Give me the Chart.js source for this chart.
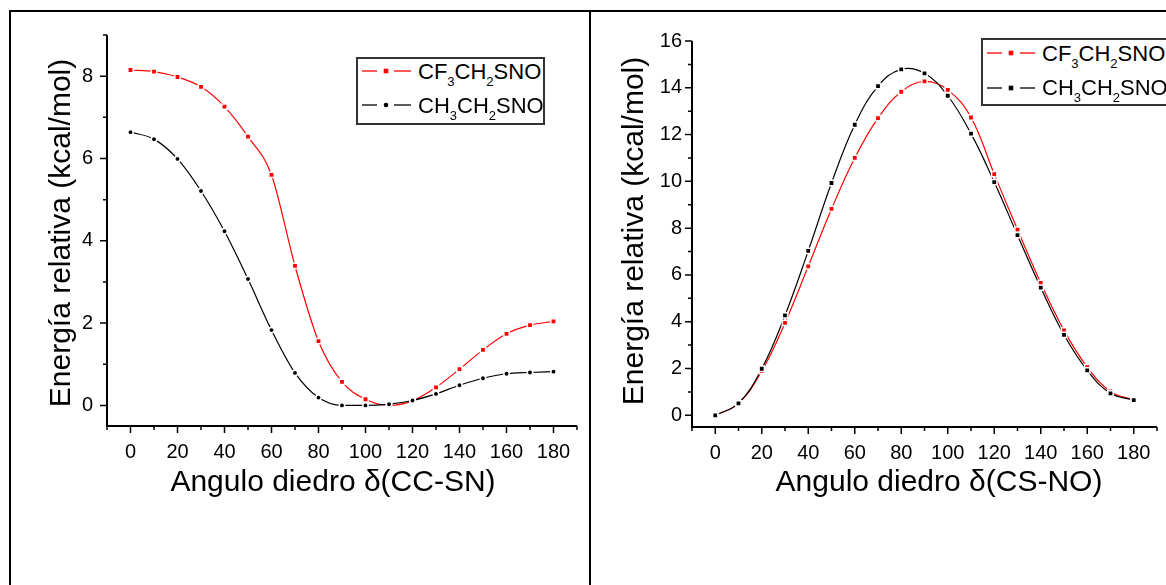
<!DOCTYPE html>
<html>
<head>
<meta charset="utf-8">
<script src="https://cdn.jsdelivr.net/npm/chart.js@4.4.1/dist/chart.umd.min.js"></script>
<style>
  html, body { margin: 0; padding: 0; background: #fff; overflow: hidden; width: 1166px; height: 585px; }
  body { position: relative; font-family: Arial, "Liberation Sans", sans-serif; color: #000; }
  canvas { position: absolute; top: 0; }
  .frame { position: absolute; background: #000; }
  .title { position: absolute; font-size: 30px; line-height: 30px; height: 30px; white-space: nowrap; text-align: center; }
  .ytitle { transform: rotate(-90deg); }
  .legbox { position: absolute; border: 2px solid #333; background: #fff; box-sizing: border-box; }
  .legtxt { position: absolute; font-size: 22px; line-height: 22px; white-space: nowrap; }
  .legtxt span { font-size: 13px; vertical-align: -7px; }
  .sample { position: absolute; overflow: visible; }
</style>
</head>
<body>
<canvas id="ccsn" width="591" height="585" style="left:0"></canvas>
<canvas id="csno" width="580" height="585" style="left:591px"></canvas>

<!-- panel frames -->
<div class="frame" style="left:10px;top:10px;width:1160px;height:2px"></div>
<div class="frame" style="left:9px;top:10px;width:2px;height:580px"></div>
<div class="frame" style="left:589px;top:10px;width:2px;height:580px"></div>

<!-- axis titles -->
<div class="title ytitle" style="left:-140px;top:218px;width:400px">Energía relativa (kcal/mol)</div>
<div class="title" style="left:83px;top:466px;width:500px">Angulo diedro δ(CC-SN)</div>
<div class="title ytitle" style="left:433px;top:216px;width:400px">Energía relativa (kcal/mol)</div>
<div class="title" style="left:689px;top:466px;width:500px">Angulo diedro δ(CS-NO)</div>

<!-- legend, left panel -->
<div class="legbox" style="left:356px;top:57px;width:189px;height:68px"></div>
<svg class="sample" style="left:362px;top:66px" width="50" height="10">
  <line x1="0" y1="5" x2="15" y2="5" stroke="#f00" stroke-width="1.3"/>
  <rect x="21.7" y="2.7" width="4.6" height="4.6" fill="#f00"/>
  <line x1="32" y1="5" x2="49" y2="5" stroke="#f00" stroke-width="1.3"/>
</svg>
<div class="legtxt" style="left:418px;top:60.6px">CF<span>3</span>CH<span>2</span>SNO</div>
<svg class="sample" style="left:362px;top:100px" width="50" height="10">
  <line x1="0" y1="5" x2="15" y2="5" stroke="#000" stroke-width="1.3"/>
  <circle cx="24" cy="5" r="2.3" fill="#000"/>
  <line x1="32" y1="5" x2="49" y2="5" stroke="#000" stroke-width="1.3"/>
</svg>
<div class="legtxt" style="left:418px;top:94.6px">CH<span>3</span>CH<span>2</span>SNO</div>

<!-- legend, right panel -->
<div class="legbox" style="left:981px;top:38px;width:240px;height:68px"></div>
<svg class="sample" style="left:987px;top:48.3px" width="50" height="10">
  <line x1="0" y1="5" x2="15" y2="5" stroke="#f00" stroke-width="1.3"/>
  <rect x="21.7" y="2.7" width="4.6" height="4.6" fill="#f00"/>
  <line x1="33" y1="5" x2="48" y2="5" stroke="#f00" stroke-width="1.3"/>
</svg>
<div class="legtxt" style="left:1042px;top:43.1px">CF<span>3</span>CH<span>2</span>SNO</div>
<svg class="sample" style="left:987px;top:83.3px" width="50" height="10">
  <line x1="0" y1="5" x2="15" y2="5" stroke="#000" stroke-width="1.3"/>
  <rect x="21.7" y="2.7" width="4.6" height="4.6" fill="#000"/>
  <line x1="33" y1="5" x2="48" y2="5" stroke="#000" stroke-width="1.3"/>
</svg>
<div class="legtxt" style="left:1042px;top:77.3px">CH<span>3</span>CH<span>2</span>SNO</div>

<script>
// Dihedral angles (degrees)
const angles = [0, 10, 20, 30, 40, 50, 60, 70, 80, 90, 100, 110, 120, 130, 140, 150, 160, 170, 180];

// Relative energy (kcal/mol) vs. δ(CC-SN)
const cf3Ccsn = [8.15, 8.11, 7.98, 7.74, 7.26, 6.53, 5.60, 3.39, 1.56, 0.57, 0.15, 0.00, 0.11, 0.44, 0.88, 1.35, 1.74, 1.95, 2.04];
const ch3Ccsn = [6.64, 6.47, 5.99, 5.21, 4.23, 3.07, 1.83, 0.79, 0.19, 0.00, 0.00, 0.03, 0.12, 0.28, 0.49, 0.66, 0.77, 0.80, 0.82];

// Relative energy (kcal/mol) vs. δ(CS-NO)
const cf3Csno = [0.00, 0.51, 1.89, 3.95, 6.37, 8.82, 11.00, 12.70, 13.83, 14.27, 13.91, 12.73, 10.31, 7.94, 5.66, 3.63, 2.06, 1.02, 0.65];
const ch3Csno = [0.00, 0.51, 1.99, 4.27, 7.03, 9.93, 12.42, 14.07, 14.79, 14.62, 13.66, 12.04, 9.97, 7.70, 5.46, 3.44, 1.92, 0.94, 0.65];

// Tick labels
const xTickLabels = ['0', '20', '40', '60', '80', '100', '120', '140', '160', '180'];
const yTickLabelsCcsn = ['0', '2', '4', '6', '8'];
const yTickLabelsCsno = ['0', '2', '4', '6', '8', '10', '12', '14', '16'];

const FONT = 'Arial, "Liberation Sans", sans-serif';

const toPoints = ys => angles.map((a, i) => ({ x: a, y: ys[i] }));

// One tick per whole unit between the axis limits (minor ticks carry no label)
const unitTicks = scale => {
  const ticks = [];
  for (let v = Math.ceil(scale.min); v <= scale.max; v++) ticks.push({ value: v });
  scale.ticks = ticks;
};

// Axis lines with major/minor tick marks drawn at the scale's tick positions
const axisFrame = {
  id: 'axisFrame',
  afterDraw(chart) {
    const { ctx, chartArea: a, scales: { x, y } } = chart;
    const xLabels = chart.options.scales.x.ticks.labelSet;
    const yLabels = chart.options.scales.y.ticks.labelSet;
    ctx.save();
    ctx.strokeStyle = '#000';
    ctx.lineWidth = 2;
    ctx.beginPath();
    ctx.moveTo(a.left, a.top);
    ctx.lineTo(a.left, a.bottom);
    ctx.lineTo(a.right, a.bottom);
    ctx.stroke();
    ctx.lineWidth = 1.5;
    ctx.beginPath();
    x.ticks.forEach(t => {
      const px = x.getPixelForValue(t.value);
      const len = xLabels.includes(String(t.value)) ? 7 : 4;
      ctx.moveTo(px, a.bottom);
      ctx.lineTo(px, a.bottom + len);
    });
    y.ticks.forEach(t => {
      const py = y.getPixelForValue(t.value);
      const len = yLabels.includes(String(t.value)) ? 7 : 4;
      ctx.moveTo(a.left - len, py);
      ctx.lineTo(a.left, py);
    });
    ctx.stroke();
    ctx.restore();
  }
};

function makeChart(id, cfg) {
  const lineOpts = cfg.monotone ? { cubicInterpolationMode: 'monotone' } : { tension: 0.4 };
  return new Chart(document.getElementById(id), {
    type: 'scatter',
    data: {
      datasets: [
        {
          label: 'CH3CH2SNO', data: toPoints(cfg.ch3), showLine: false, order: 0,
          pointStyle: cfg.ch3Style, pointRadius: cfg.ch3Style === 'circle' ? 2.7 : 3.75,
          pointBackgroundColor: '#000', pointBorderColor: '#fff', pointBorderWidth: 1.5
        },
        {
          label: 'CF3CH2SNO', data: toPoints(cfg.cf3), showLine: false, order: 1,
          pointStyle: 'rect', pointRadius: 3.75,
          pointBackgroundColor: '#f00', pointBorderColor: '#fff', pointBorderWidth: 1.5
        },
        Object.assign({
          label: 'CH3CH2SNO curve', data: toPoints(cfg.ch3), showLine: true, order: 2,
          pointRadius: 0, borderColor: '#000', borderWidth: 1.2
        }, lineOpts),
        Object.assign({
          label: 'CF3CH2SNO curve', data: toPoints(cfg.cf3), showLine: true, order: 3,
          pointRadius: 0, borderColor: '#f00', borderWidth: 1.2
        }, lineOpts)
      ]
    },
    options: {
      responsive: false,
      animation: false,
      devicePixelRatio: 1,
      events: [],
      layout: { padding: { left: 0, top: cfg.top, right: 0, bottom: 0 } },
      plugins: { legend: { display: false }, tooltip: { enabled: false } },
      scales: {
        x: {
          type: 'linear', min: -10, max: 190,
          afterFit: s => { s.height = cfg.xHeight; },
          grid: { display: false, drawTicks: false },
          border: { display: false },
          ticks: {
            labelSet: xTickLabels,
            stepSize: 10, autoSkip: false, maxRotation: 0, maxTicksLimit: 100,
            padding: cfg.xPad, color: '#000', font: { family: FONT, size: 20 },
            callback: v => xTickLabels.includes(String(v)) ? String(v) : ''
          }
        },
        y: {
          type: 'linear', min: -0.5, max: cfg.yMax,
          afterBuildTicks: unitTicks,
          afterFit: s => { s.width = cfg.yWidth; },
          grid: { display: false, drawTicks: false },
          border: { display: false },
          ticks: {
            labelSet: cfg.yLabels,
            autoSkip: false,
            padding: cfg.yPad, color: '#000', font: { family: FONT, size: 20 },
            callback: v => cfg.yLabels.includes(String(v)) ? String(v) : ''
          }
        }
      }
    },
    plugins: [axisFrame]
  });
}

makeChart('ccsn', {
  cf3: cf3Ccsn, ch3: ch3Ccsn, ch3Style: 'circle', monotone: true,
  yMax: 9, yLabels: yTickLabelsCcsn,
  top: 35, xHeight: 159, yWidth: 107, xPad: 14, yPad: 14
});

makeChart('csno', {
  cf3: cf3Csno, ch3: ch3Csno, ch3Style: 'rect', monotone: false,
  yMax: 16, yLabels: yTickLabelsCsno,
  top: 41, xHeight: 158, yWidth: 101, xPad: 14, yPad: 10
});
</script>
</body>
</html>
